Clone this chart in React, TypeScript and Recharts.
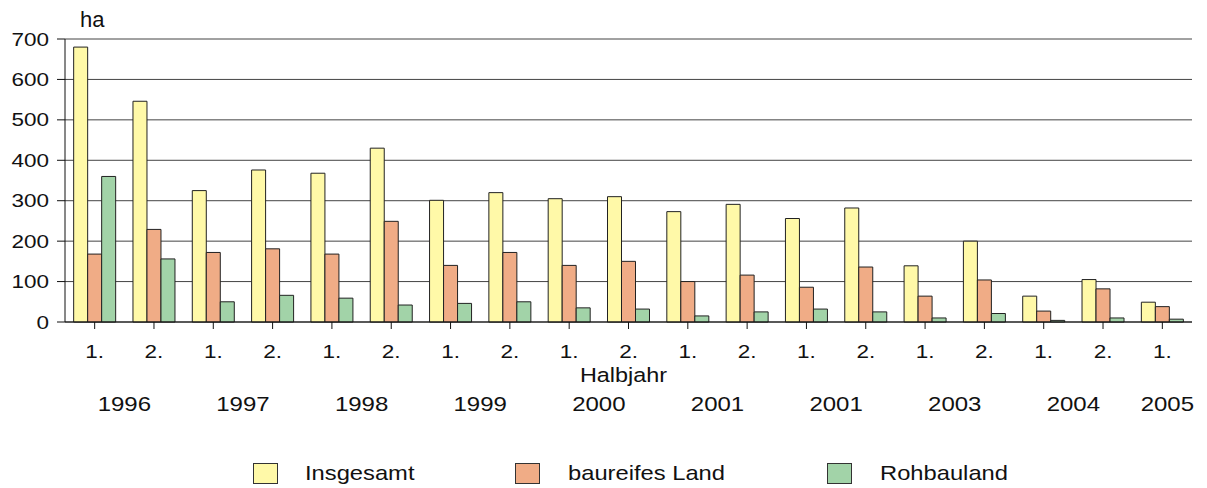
import React from 'react';
import { BarChart, Bar, XAxis, YAxis, CartesianGrid, Legend } from 'recharts';

const halfLabels = ['1.', '2.', '1.', '2.', '1.', '2.', '1.', '2.', '1.', '2.', '1.', '2.', '1.', '2.', '1.', '2.', '1.', '2.', '1.'];
const yearLabels = ['1996', '1997', '1998', '1999', '2000', '2001', '2001', '2003', '2004', '2005'];
const insgesamt = [680, 546, 325, 376, 368, 430, 301, 320, 305, 310, 273, 291, 256, 282, 139, 200, 64, 105, 49];
const baureifes = [168, 229, 172, 181, 168, 249, 140, 172, 140, 150, 100, 116, 86, 136, 64, 104, 27, 82, 38];
const rohbauland = [360, 156, 50, 66, 59, 42, 46, 50, 35, 32, 15, 25, 32, 25, 10, 21, 4, 10, 7];
const yTicks = [0, 100, 200, 300, 400, 500, 600, 700];

const seriesNames = ['Insgesamt', 'baureifes Land', 'Rohbauland'];
const colors = ['#FFF9A8', '#F0AC86', '#A2D3A8'];

const data = halfLabels.map((h, i) => ({
  key: `k${i}`,
  half: h,
  Insgesamt: insgesamt[i],
  'baureifes Land': baureifes[i],
  Rohbauland: rohbauland[i],
}));

const W = 1207;
const H = 488;
const PLOT_LEFT = 65;
const PLOT_RIGHT = 1192;
const CAT_W = (PLOT_RIGHT - PLOT_LEFT) / halfLabels.length;
const FONT = '"Liberation Sans", Arial, Helvetica, sans-serif';
const SX = 1.25;

const StretchText = ({ x, y, text, size, anchor, sx }: any) => (
  <g transform={`translate(${x},${y}) scale(${sx},1)`}>
    <text x={0} y={0} textAnchor={anchor} fontSize={size} fontFamily={FONT} fill="#111">
      {text}
    </text>
  </g>
);

const YTick = (props: any) => {
  const { x, y, payload } = props;
  return <StretchText x={x} y={y + 6.5} text={String(payload.value)} size={18} anchor="end" sx={SX} />;
};

const XTick = (props: any) => {
  const { x, y, index, payload } = props;
  const i = typeof index === 'number' ? index : payload.index;
  const label = halfLabels[i];
  const showYear = i % 2 === 0;
  const yx = i === halfLabels.length - 1 ? x + 5 : x + CAT_W / 2;
  return (
    <g>
      <StretchText x={x} y={y + 27} text={label} size={18} anchor="middle" sx={SX} />
      {showYear && (
        <StretchText x={yx} y={y + 80} text={yearLabels[i / 2]} size={20} anchor="middle" sx={1.2} />
      )}
    </g>
  );
};

const HalbjahrLabel = (props: any) => {
  const vb = props.viewBox || { x: PLOT_LEFT, y: 322, width: PLOT_RIGHT - PLOT_LEFT };
  return <StretchText x={vb.x + vb.width / 2 - 5} y={382} text="Halbjahr" size={19.5} anchor="middle" sx={1.2} />;
};

const HaLabel = () => (
  <text x={80} y={27} fontSize={22} fontFamily={FONT} fill="#111">
    ha
  </text>
);

const legendPos = [
  { sq: 253, tx: 305 },
  { sq: 515, tx: 568 },
  { sq: 827, tx: 880 },
];

const LegendContent = () => (
  <div style={{ position: 'relative', width: W, height: 33 }}>
    {seriesNames.map((n, i) => (
      <React.Fragment key={n}>
        <div
          style={{
            position: 'absolute',
            left: legendPos[i].sq,
            top: 8,
            width: 23,
            height: 19,
            background: colors[i],
            border: '1px solid #333',
          }}
        />
        <div
          style={{
            position: 'absolute',
            left: legendPos[i].tx,
            top: 7,
            fontSize: 21,
            lineHeight: '21px',
            fontFamily: FONT,
            color: '#111',
            whiteSpace: 'nowrap',
            transform: 'scaleX(1.13)',
            transformOrigin: 'left center',
          }}
        >
          {n}
        </div>
      </React.Fragment>
    ))}
  </div>
);

export default function App() {
  return (
    <div style={{ position: 'absolute', left: 0, top: 0, width: W, height: H, background: '#fff' }}>
      <BarChart
        width={W}
        height={H}
        data={data}
        margin={{ top: 39, right: W - PLOT_RIGHT, left: 0, bottom: 33 }}
        barCategoryGap="14.6%"
        barGap={0}
      >
        <CartesianGrid vertical={false} stroke="#444" strokeWidth={1} />
        <XAxis
          dataKey="key"
          interval={0}
          height={100}
          tickSize={7}
          tickLine={{ stroke: '#111' }}
          axisLine={{ stroke: '#111' }}
          tick={<XTick />}
          label={<HalbjahrLabel />}
        />
        <YAxis
          width={PLOT_LEFT}
          domain={[0, 700]}
          ticks={yTicks}
          interval={0}
          tickSize={8}
          tickMargin={8}
          tickLine={{ stroke: '#111' }}
          axisLine={{ stroke: '#111' }}
          tick={<YTick />}
          label={<HaLabel />}
        />
        <YAxis
          yAxisId="r"
          orientation="right"
          width={0}
          domain={[0, 700]}
          tick={false}
          tickLine={false}
          axisLine={{ stroke: '#111' }}
        />
        <Legend
          verticalAlign="bottom"
          content={<LegendContent />}
          wrapperStyle={{ position: 'absolute', left: 0, top: 455, bottom: 'auto', width: W, height: 33 }}
        />
        {seriesNames.map((n, i) => (
          <Bar key={n} dataKey={n} fill={colors[i]} stroke="#222" strokeWidth={1} isAnimationActive={false} />
        ))}
      </BarChart>
    </div>
  );
}
